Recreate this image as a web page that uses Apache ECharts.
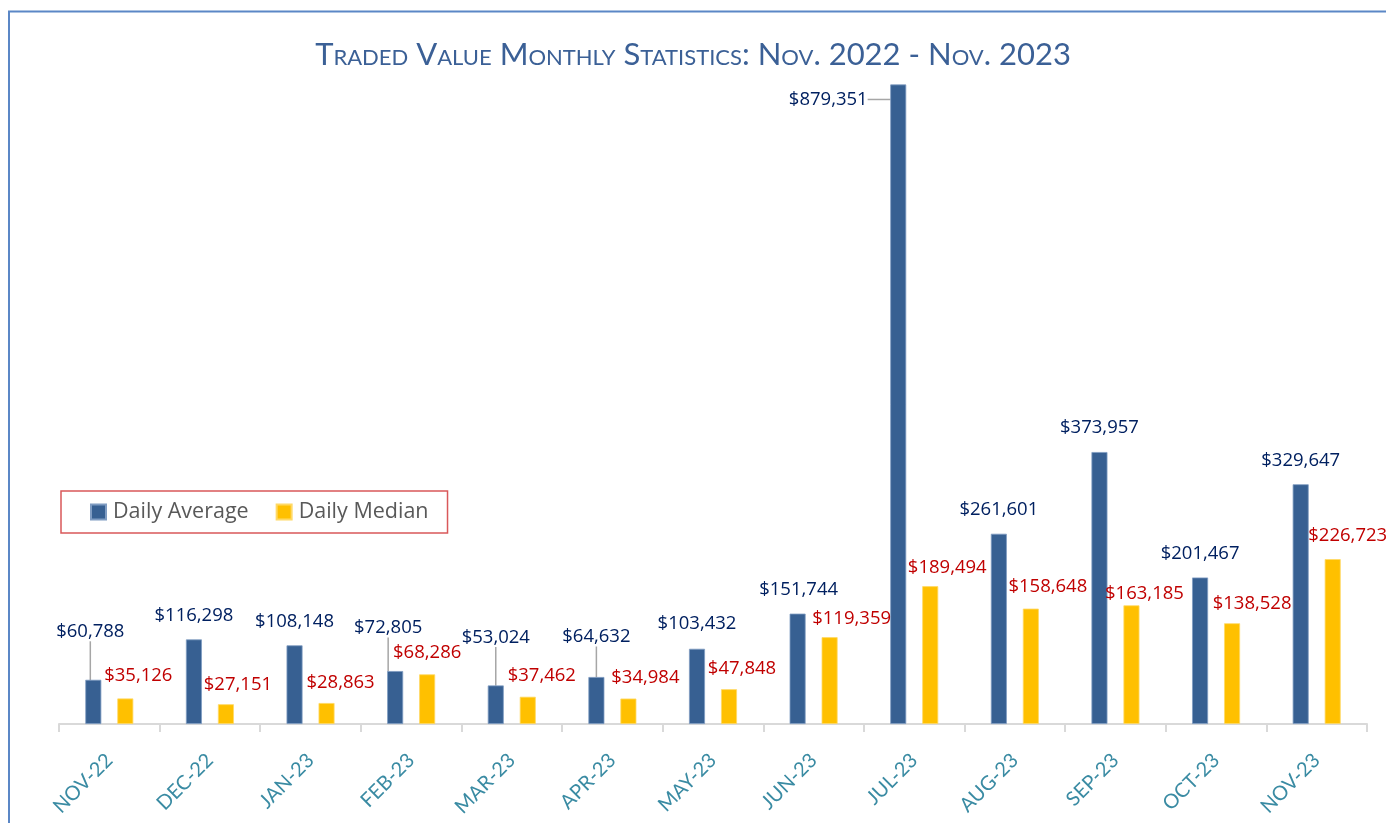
<!DOCTYPE html>
<html>
<head>
<meta charset="utf-8">
<title>Traded Value Monthly Statistics</title>
<script src="https://cdn.jsdelivr.net/npm/echarts@6/dist/echarts.min.js"></script>
<style>
  html, body { margin: 0; padding: 0; background: #fff; }
  #chart { width: 1386px; height: 823px; }
</style>
</head>
<body>
<div id="chart"></div>
<script>
// x axis months
const months = ['NOV-22', 'DEC-22', 'JAN-23', 'FEB-23', 'MAR-23', 'APR-23', 'MAY-23',
  'JUN-23', 'JUL-23', 'AUG-23', 'SEP-23', 'OCT-23', 'NOV-23'];
const dailyAverage = [60788, 116298, 108148, 72805, 53024, 64632, 103432,
  151744, 879351, 261601, 373957, 201467, 329647];
const dailyMedian = [35126, 27151, 28863, 68286, 37462, 34984, 47848,
  119359, 189494, 158648, 163185, 138528, 226723];

// labels were dragged around by hand in the original, offsets from the top centre of the bar
const averageLabelShift = [[-3, -48], [0, -24], [0, -24], [-7, -43], [0, -48], [0, -40], [0, -25],
  [1, -24], [-70, 15], [0, -24], [0, -24], [0, -24], [0, -24]];
const medianLabelShift = [[13, -23], [12, -20], [14, -20], [0, -22], [14, -21], [17, -21], [13, -20],
  [22, -18], [17, -18], [17, -22], [13, -12], [20, -20], [15, -23]];
const averageWithLeader = [0, 3, 4, 5, 8];

const chart = echarts.init(document.getElementById('chart'));

function money(p) {
  return '$' + p.value.toLocaleString('en-US');
}

function shiftLabel(shifts) {
  return function (params) {
    const s = shifts[params.dataIndex];
    return {
      x: params.rect.x + params.rect.width / 2 + s[0],
      y: params.rect.y + s[1],
      align: 'center',
      verticalAlign: 'middle'
    };
  };
}

const option = {
  backgroundColor: '#fff',
  textStyle: { fontFamily: 'Open Sans' },
  animation: false,
  title: {
    text: 'Traded Value Monthly Statistics: Nov. 2022 - Nov. 2023',
    left: 'center',
    top: 34,
    textStyle: {
      fontFamily: 'Lato',
      fontStyle: 'small-caps',
      fontWeight: 'normal',
      fontSize: 31,
      color: '#3B6096'
    }
  },
  legend: {
    left: 61,
    top: 491,
    orient: 'horizontal',
    padding: [10, 19, 10, 29],
    itemGap: 27,
    itemWidth: 15,
    itemHeight: 15,
    borderColor: '#D9585A',
    borderWidth: 1.5,
    icon: 'rect',
    textStyle: { fontSize: 21.5, color: '#595959', padding: [0, 0, 0, 2] },
    data: ['Daily Average', 'Daily Median']
  },
  grid: { left: 59, right: 19, top: 84, bottom: 99 },
  xAxis: {
    type: 'category',
    data: months,
    axisLine: { lineStyle: { color: '#D9D9D9', width: 2 } },
    axisTick: { show: true, interval: 0, length: 8, lineStyle: { color: '#D9D9D9', width: 2 } },
    axisLabel: {
      rotate: 45,
      margin: 33,
      fontSize: 20,
      fontFamily: 'Lato',
      color: '#3A8BA3'
    }
  },
  yAxis: {
    type: 'value',
    min: 0,
    max: 880000,
    show: false,
    splitLine: { show: false }
  },
  series: [
    {
      name: 'Daily Average',
      type: 'bar',
      barWidth: 16,
      barGap: '100%',
      itemStyle: { color: '#376092', borderColor: '#7F9CC2', borderWidth: 0.8 },
      label: { show: true, position: 'top', formatter: money, fontSize: 18.5, color: '#002060' },
      labelLine: { show: false, lineStyle: { color: '#A6A6A6', width: 1.5 } },
      labelLayout: shiftLabel(averageLabelShift),
      data: dailyAverage.map((v, i) => ({
        value: v,
        labelLine: { show: averageWithLeader.indexOf(i) >= 0 }
      }))
    },
    {
      name: 'Daily Median',
      type: 'bar',
      barWidth: 16,
      itemStyle: { color: '#FFC000', borderColor: '#FFD966', borderWidth: 0.8 },
      label: { show: true, position: 'top', formatter: money, fontSize: 18.5, color: '#C00000' },
      labelLayout: shiftLabel(medianLabelShift),
      data: dailyMedian
    }
  ],
  graphic: [
    {
      type: 'rect',
      silent: true,
      z: -1,
      shape: { x: 9, y: 11.5, width: 1500, height: 900 },
      style: { fill: 'none', stroke: '#5B87C6', lineWidth: 2 }
    }
  ]
};

chart.setOption(option);
</script>
</body>
</html>
